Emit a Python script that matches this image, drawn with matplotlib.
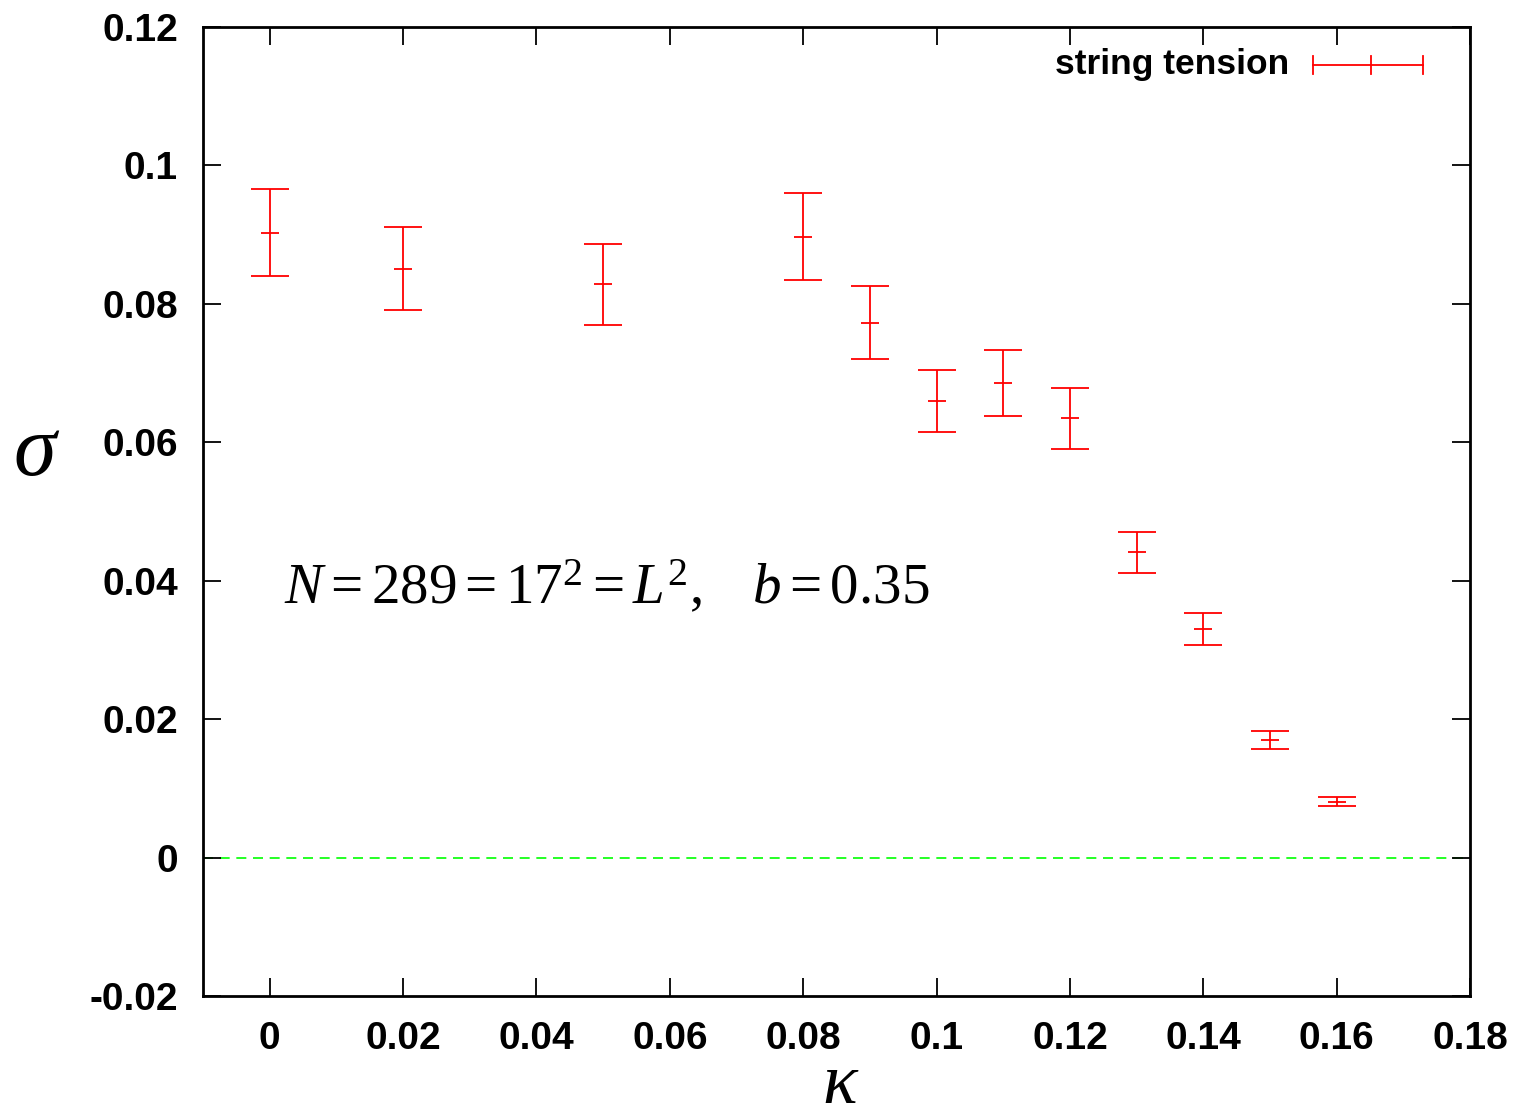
import matplotlib
matplotlib.use("Agg")
import matplotlib.pyplot as plt
from matplotlib.lines import Line2D

kappa = [0.0, 0.02, 0.05, 0.08, 0.09, 0.10, 0.11, 0.12, 0.13, 0.14, 0.15, 0.16]
sigma = [0.0903, 0.0851, 0.0828, 0.0897, 0.0773, 0.0660, 0.0686, 0.0635, 0.0441, 0.0330, 0.0170, 0.0081]
sigma_err = [0.0063, 0.0060, 0.0058, 0.0063, 0.0053, 0.0045, 0.0048, 0.0044, 0.0030, 0.0023, 0.0013, 0.0006]
xticks = [0, 0.02, 0.04, 0.06, 0.08, 0.1, 0.12, 0.14, 0.16, 0.18]
xtick_labels = ["0", "0.02", "0.04", "0.06", "0.08", "0.1", "0.12", "0.14", "0.16", "0.18"]
yticks = [-0.02, 0, 0.02, 0.04, 0.06, 0.08, 0.1, 0.12]
ytick_labels = ["-0.02", "0", "0.02", "0.04", "0.06", "0.08", "0.1", "0.12"]

plt.rcParams['font.family'] = ['Liberation Sans', 'DejaVu Sans']
plt.rcParams['mathtext.fontset'] = 'custom'
plt.rcParams['mathtext.rm'] = 'Liberation Serif'
plt.rcParams['mathtext.it'] = 'Liberation Serif:italic'

fig = plt.figure(figsize=(15.2, 11.19), dpi=100)
ax = fig.add_axes([203/1520, 1-996/1119, (1470-203)/1520, (996-27)/1119])

ax.axhline(0, color='#00ff00', lw=1.2, ls=(0, (6, 4)), zorder=1)
ax.errorbar(kappa, sigma, yerr=sigma_err, fmt='_', color='red', ecolor='red',
            elinewidth=1.3, capsize=13.5, capthick=1.3, markersize=13.5,
            markeredgewidth=1.3, zorder=3)

ax.set_xlim(-0.01, 0.18)
ax.set_ylim(-0.02, 0.12)
ax.set_xticks(xticks)
ax.set_xticklabels(xtick_labels, fontweight='bold')
ax.set_yticks(yticks)
ax.set_yticklabels(ytick_labels, fontweight='bold')
ax.tick_params(direction='in', length=13, width=1.3, top=True, right=True,
               labelsize=28, pad=18)
for s in ax.spines.values():
    s.set_linewidth(2.0)

ax.set_ylabel(r'$\sigma$', fontsize=62, rotation=0, ha='center', va='center')
ax.yaxis.set_label_coords(-0.131, 0.56)
ax.set_xlabel(r'$\kappa$', fontsize=52, ha='center', va='center')
ax.xaxis.set_label_coords(0.503, -0.091)

ax.text(0.064, 0.421, r'$N = 289 = 17^2 = L^2,\quad b = 0.35$', transform=ax.transAxes,
        fontsize=41, va='center', ha='left')

# legend
ly = 0.961
ax.text(0.857, ly, 'string tension', transform=ax.transAxes, fontsize=25.5,
        fontweight='bold', ha='right', va='center')
ax.add_line(Line2D([0.876, 0.963], [ly, ly], transform=ax.transAxes, color='red', lw=1.3))
for xx in (0.876, 0.963):
    ax.add_line(Line2D([xx, xx], [ly - 0.009, ly + 0.009], transform=ax.transAxes, color='red', lw=1.3))
ax.add_line(Line2D([0.922, 0.922], [ly - 0.009, ly + 0.009], transform=ax.transAxes, color='red', lw=1.3))

fig.savefig('out.png', dpi=100)
